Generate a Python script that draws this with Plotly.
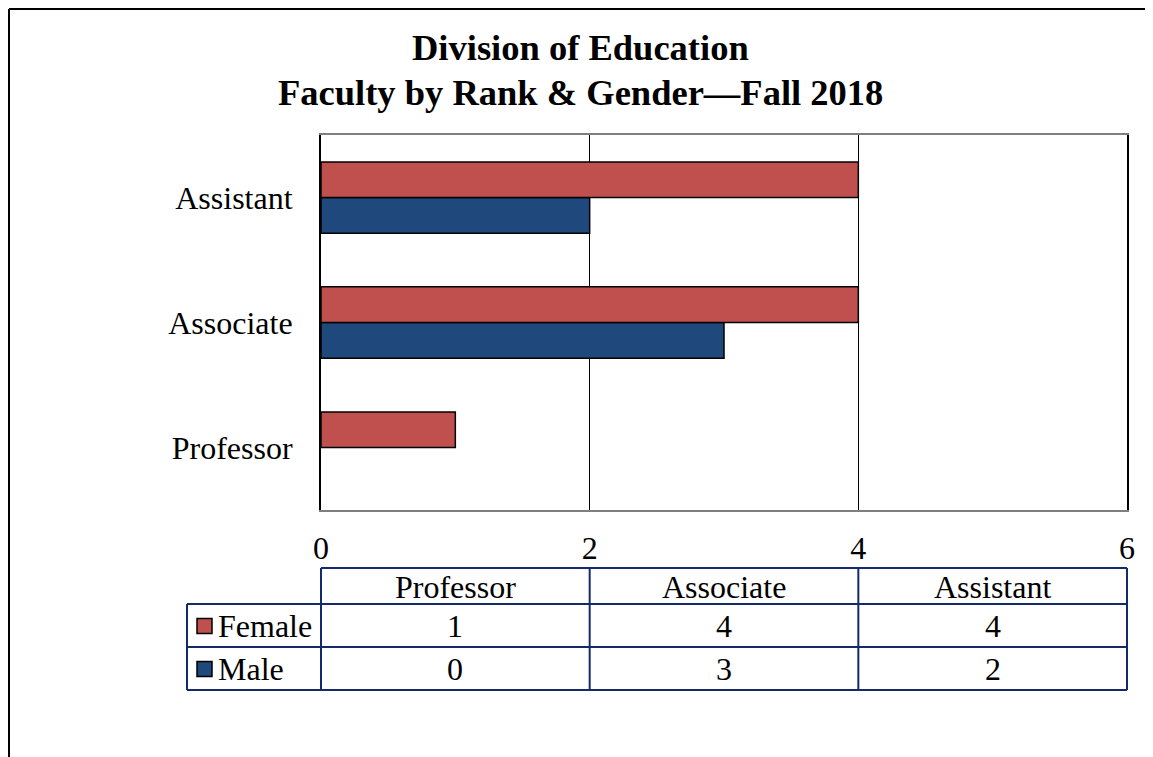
import plotly.graph_objects as go

# ---- data ----
ranks = ["Professor", "Associate", "Assistant"]
female = [1, 4, 4]
male = [0, 3, 2]
series_names = ["Female", "Male"]
x_ticks = [0, 2, 4, 6]
x_range = [0, 6]
title_lines = ["Division of Education", "Faculty by Rank & Gender\u2014Fall 2018"]

# ---- style ----
FONT = "Liberation Serif, Times New Roman, serif"
RED = "#C0504D"
BLUE = "#1F497D"
NAVY = "#16296B"
OFF = 8  # page body margin
W, H = 1153 - OFF, 757 - OFF
# target screen positions of plot area
SX0, SX1, SY0, SY1 = 321, 1127, 135, 510
L, T = SX0 - OFF, SY0 - OFF
R, B = W - (SX1 - OFF), H - (SY1 - OFF)
PW, PH = SX1 - SX0, SY1 - SY0


def py(pix):
    """screen pixel y -> paper y"""
    return (SY1 - pix) / PH


def px(pix):
    """screen pixel x -> paper x"""
    return (pix - SX0) / PW


def dx(v):
    """data x -> paper x via the axis range"""
    return (v - x_range[0]) / (x_range[1] - x_range[0])


fig = go.Figure()
fig.add_trace(go.Bar(y=ranks, x=male, name="Male", orientation="h",
                     marker=dict(color=BLUE,
                                 line=dict(color="black", width=[1.5 if v else 0 for v in male])),
                     showlegend=False, hoverinfo="x+y"))
fig.add_trace(go.Bar(y=ranks, x=female, name="Female", orientation="h",
                     marker=dict(color=RED,
                                 line=dict(color="black", width=[1.5 if v else 0 for v in female])),
                     showlegend=False, hoverinfo="x+y"))

shapes = []
annotations = []

# outer chart border: only left and top edges are visible in the window
border = dict(color="black", width=2)
shapes.append(dict(type="line", xref="paper", yref="paper",
                   x0=px(OFF + 1), x1=px(OFF + 1), y0=py(OFF + 1), y1=py(OFF + H),
                   line=border))
shapes.append(dict(type="line", xref="paper", yref="paper",
                   x0=px(OFF + 1), x1=px(OFF + W), y0=py(OFF + 1), y1=py(OFF + 1),
                   line=border))

# title
for i, line in enumerate(title_lines):
    annotations.append(dict(text="<b>" + line + "</b>", xref="paper", yref="paper",
                            x=px(580), y=py(47 + 45 * i), xanchor="center", yanchor="middle",
                            showarrow=False, font=dict(family=FONT, size=36.5, color="black")))

# ---- data table below the axis ----
row_tops = [568, 604, 647, 690]  # header top, female top, male top, bottom
row_centers = [587, 626, 669]
line_style = dict(color=NAVY, width=2)
n = len(ranks)
leg_left = px(187)
col_edges = [dx(2 * k) for k in range(n + 1)]
col_centers = [dx(2 * k + 1) for k in range(n)]
FS = 32

# horizontal lines
shapes.append(dict(type="line", xref="paper", yref="paper", x0=col_edges[0], x1=col_edges[-1],
                   y0=py(row_tops[0]), y1=py(row_tops[0]), line=line_style))
for yt in row_tops[1:]:
    shapes.append(dict(type="line", xref="paper", yref="paper", x0=leg_left, x1=col_edges[-1],
                       y0=py(yt), y1=py(yt), line=line_style))
# vertical lines
shapes.append(dict(type="line", xref="paper", yref="paper", x0=leg_left, x1=leg_left,
                   y0=py(row_tops[1]), y1=py(row_tops[3]), line=line_style))
for xe in col_edges:
    shapes.append(dict(type="line", xref="paper", yref="paper", x0=xe, x1=xe,
                       y0=py(row_tops[0]), y1=py(row_tops[3]), line=line_style))

# header text
for xc, rk in zip(col_centers, ranks):
    annotations.append(dict(text=rk, xref="paper", yref="paper", x=xc, y=py(row_centers[0]),
                            xanchor="center", yanchor="middle", showarrow=False,
                            font=dict(family=FONT, size=FS, color="black")))
# value rows + legend keys
for r, (name, vals, col) in enumerate(zip(series_names, [female, male], [RED, BLUE])):
    yc = py(row_centers[r + 1])
    for xc, v in zip(col_centers, vals):
        annotations.append(dict(text=str(v), xref="paper", yref="paper", x=xc, y=yc,
                                xanchor="center", yanchor="middle", showarrow=False,
                                font=dict(family=FONT, size=FS, color="black")))
    shapes.append(dict(type="rect", xref="paper", yref="paper", xsizemode="pixel", ysizemode="pixel",
                       xanchor=leg_left, yanchor=yc, x0=10, x1=25, y0=-7.5, y1=7.5,
                       fillcolor=col, line=dict(color="black", width=1.5)))
    annotations.append(dict(text=name, xref="paper", yref="paper", x=leg_left, y=yc, xshift=29,
                            xanchor="left", yanchor="middle", showarrow=False,
                            font=dict(family=FONT, size=FS, color="black")))

fig.update_layout(
    width=W, height=H,
    margin=dict(l=L, r=R, t=T, b=B, pad=0),
    paper_bgcolor="white", plot_bgcolor="white",
    barmode="group", bargap=0.43, bargroupgap=0,
    font=dict(family=FONT, size=FS, color="black"),
    shapes=shapes, annotations=annotations,
    xaxis=dict(range=x_range, tickvals=x_ticks, showgrid=True, gridcolor="black", gridwidth=1,
               zeroline=False, showline=True, mirror=True, linecolor="#7f7f7f", linewidth=1.5,
               ticks="outside", ticklen=9, tickcolor="rgba(0,0,0,0)",
               tickfont=dict(family=FONT, size=FS, color="black"), fixedrange=True),
    yaxis=dict(categoryorder="array", categoryarray=ranks, showgrid=False, zeroline=False,
               showline=True, mirror=True, linecolor="black", linewidth=2,
               ticks="outside", ticklen=20, tickcolor="rgba(0,0,0,0)",
               tickfont=dict(family=FONT, size=FS, color="black"), fixedrange=True),
)

fig.write_html("out.html")
